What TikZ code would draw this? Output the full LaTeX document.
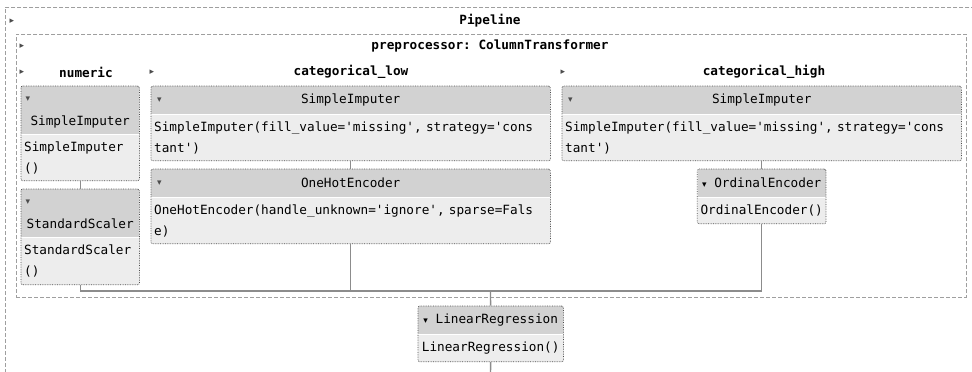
\documentclass[tikz,border=0pt]{standalone}
\usepackage{fontspec}
\setmainfont{DejaVu Sans}
\setmonofont{DejaVu Sans Mono}
\newfontfamily\symfont{DejaVu Sans}
\usetikzlibrary{positioning,fit}
\newcommand{\tridn}{{\symfont\fontsize{9}{9}\selectfont ▾}}
\newcommand{\trirt}{{\symfont\fontsize{9}{9}\selectfont ▸}}

\begin{document}
\begin{tikzpicture}[
  x=1pt, y=-1pt,
  font=\ttfamily\fontsize{12.7}{21}\selectfont,
  cont/.style={draw=gray!75, dash pattern=on 4pt off 2pt, line width=0.9pt,
               anchor=north west, inner sep=0pt},
  ttl/.style={font=\ttfamily\bfseries\fontsize{12.7}{15}\selectfont},
  tri/.style={inner sep=0pt, text=gray!60!black},
  hdr/.style={fill=gray!35, anchor=north west, inner xsep=3pt, inner ysep=0pt,
              align=center},
  body/.style={fill=gray!14, inner xsep=3pt, inner ysep=0pt, align=left},
  est/.style={draw=gray!60!black, densely dotted, line width=0.7pt,
              rounded corners=2pt, inner sep=0pt},
  link/.style={draw=gray!90, line width=1.4pt}]
\useasboundingbox (0,0) rectangle (972,372);
\clip (0,0) rectangle (972,372);

% containers
\node[cont, minimum width=990, minimum height=400] (pipe) at (5,7) {};
\node[tri] (pipetri) at (12,21) {\trirt};
\node[ttl] (pipettl) at (490,21) {Pipeline};
\node[cont, minimum width=950, minimum height=263] (prep) at (16,34) {};
\node[tri] (preptri) at (22,46) {\trirt};
\node[ttl] (prepttl) at (490,46) {preprocessor: ColumnTransformer};

% column titles
\node[tri] (numtri) at (22,72) {\trirt};
\node[ttl] (numttl) at (86,72) {numeric};
\node[tri] (lowtri) at (152,72) {\trirt};
\node[ttl] (lowttl) at (351,72) {categorical\_low};
\node[tri] (hightri) at (563,72) {\trirt};
\node[ttl] (highttl) at (764,72) {categorical\_high};

% numeric
\node[hdr, text width=112, minimum height=48, text height=34pt, text depth=4pt,
      label={[tri, anchor=center, xshift=7pt, yshift=-13pt]north west:\tridn}]
  (numimp-h) at (21,86) {SimpleImputer};
\node[body, text width=112, minimum height=46, below=0pt of numimp-h]
  (numimp-b) {SimpleImputer\\()};
\node[est, fit=(numimp-h)(numimp-b)] (numimp) {};
\node[hdr, text width=112, minimum height=48, text height=34pt, text depth=4pt,
      label={[tri, anchor=center, xshift=7pt, yshift=-13pt]north west:\tridn}]
  (numscale-h) at (21,189) {StandardScaler};
\node[body, text width=112, minimum height=47, below=0pt of numscale-h]
  (numscale-b) {StandardScaler\\()};
\node[est, fit=(numscale-h)(numscale-b)] (numscale) {};

% categorical_low
\node[hdr, text width=393, minimum height=28,
      label={[tri, anchor=west, xshift=6pt]west:\tridn}]
  (lowimp-h) at (151,86) {SimpleImputer};
\node[body, text width=393, minimum height=46, below=0pt of lowimp-h]
  (lowimp-b) {SimpleImputer(fill\_value='missing', strategy='cons\\tant')};
\node[est, fit=(lowimp-h)(lowimp-b)] (lowimp) {};
\node[hdr, text width=393, minimum height=28,
      label={[tri, anchor=west, xshift=6pt]west:\tridn}]
  (lowohe-h) at (151,169) {OneHotEncoder};
\node[body, text width=393, minimum height=46, below=0pt of lowohe-h]
  (lowohe-b) {OneHotEncoder(handle\_unknown='ignore', sparse=Fals\\e)};
\node[est, fit=(lowohe-h)(lowohe-b)] (lowohe) {};

% categorical_high
\node[hdr, text width=393, minimum height=28,
      label={[tri, anchor=west, xshift=6pt]west:\tridn}]
  (highimp-h) at (562,86) {SimpleImputer};
\node[body, text width=393, minimum height=46, below=0pt of highimp-h]
  (highimp-b) {SimpleImputer(fill\_value='missing', strategy='cons\\tant')};
\node[est, fit=(highimp-h)(highimp-b)] (highimp) {};
\node[hdr, minimum width=128, minimum height=28]
  (highord-h) at (697.5,169) {\tridn\ OrdinalEncoder};
\node[body, minimum width=128, minimum height=26, below=0pt of highord-h]
  (highord-b) {OrdinalEncoder()};
\node[est, fit=(highord-h)(highord-b)] (highord) {};

% final estimator
\node[hdr, minimum width=145, minimum height=28]
  (linreg-h) at (418,306) {\tridn\ LinearRegression};
\node[body, minimum width=145, minimum height=27, below=0pt of linreg-h]
  (linreg-b) {LinearRegression()};
\node[est, fit=(linreg-h)(linreg-b)] (linreg) {};

% connectors
\coordinate (join) at (490.5,291);
\coordinate (out) at (490.5,380);
\draw[link] (numimp) -- (numscale);
\draw[link] (lowimp) -- (lowohe);
\draw[link] (highimp.south -| highord) -- (highord);
\draw[link] (numscale) |- (highord |- join) -- (highord);
\draw[link] (lowohe) -- (lowohe |- join);
\draw[link] (join) -- (linreg);
\draw[link] (linreg) -- (out);
\end{tikzpicture}
\end{document}
